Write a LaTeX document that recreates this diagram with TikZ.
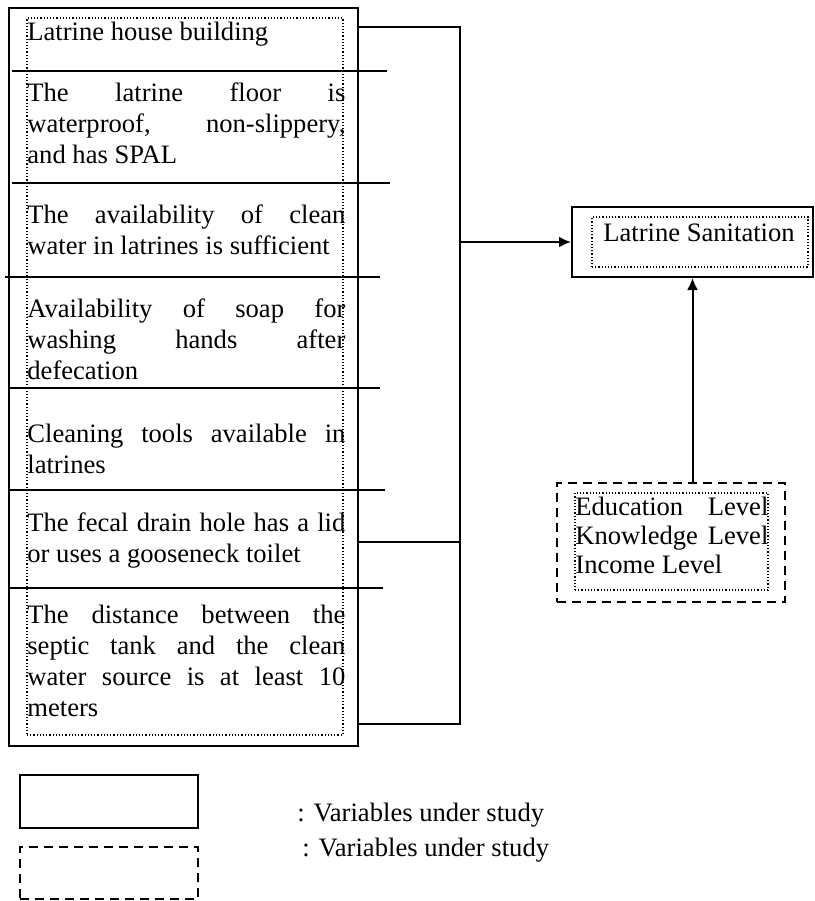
\documentclass[tikz,border=0pt]{standalone}
\usepackage{fontspec}
\setmainfont{Liberation Serif}
\newcommand{\boxfont}{\fontsize{13.3pt}{15.5pt}\selectfont\tolerance=10000\hyphenpenalty=10000}
\newcommand{\factorfont}{\fontsize{13.3pt}{14.5pt}\selectfont\tolerance=10000\hyphenpenalty=10000}
\usetikzlibrary{arrows, arrows.meta, positioning, fit}

\begin{document}
\begin{tikzpicture}[x=0.5pt, y=-0.5pt,
        frame/.style={draw, line width=1pt, inner sep=0pt},
        dotframe/.style={draw, densely dotted, line width=0.6pt, inner sep=0pt},
        dashframe/.style={draw, dash pattern=on 4.5pt off 3pt, line width=1pt, inner sep=0pt},
        item/.style={anchor=base west, text width=159pt, align=justify, inner sep=0pt, font=\boxfont},
        sep/.style={draw, line width=1pt},
        conn/.style={draw, line width=1pt},
        line/.style={draw, line width=1pt, -{Latex[length=6pt, width=5.5pt]}}]

        \useasboundingbox (0,0) rectangle (815,901);

        % indicator block
        \node [frame, fit={(9,8) (358,746)}] (outer) {};
        \node [dotframe, fit={(27,18) (343,735)}] (inner) {};
        \foreach \y/\a/\b in {71/12/387, 183/12/390, 277/5/380, 388/9/380, 490/9/385, 588/9/383}
            \path [sep] (\a,\y) -- (\b,\y);

        \node [item] (house) at (27,40) {Latrine house building};
        \node [item] (floor) at (27,101) {The latrine floor is\linebreak waterproof, non-slippery,\linebreak and has SPAL};
        \node [item] (water) at (27,223) {The availability of clean\linebreak water in latrines is sufficient};
        \node [item] (soap) at (27,317) {Availability of soap for\linebreak washing hands after\linebreak defecation};
        \node [item] (tools) at (27,442) {Cleaning tools available in\linebreak latrines};
        \node [item] (lid) at (27,531) {The fecal drain hole has a lid\linebreak or uses a gooseneck toilet};
        \node [item] (distance) at (27,623) {The distance between the\linebreak septic tank and the clean\linebreak water source is at least 10\linebreak meters};

        % outcome
        \node [frame, fit={(572,207) (813,277)}] (sanitation) {};
        \node [dotframe, fit={(592,217) (808,267)}] (sanitationin) {};
        \node [anchor=base, inner sep=0pt, font=\boxfont] (sanitationtext) at (699,241) {Latrine Sanitation};

        % other factors
        \node [dashframe, fit={(557,483) (785,602)}] (factors) {};
        \node [dotframe, fit={(575,493) (768,590)}] (factorsin) {};
        \node [item, text width=96.5pt, font=\factorfont] (factorstext) at (575,515) {Education Level\linebreak Knowledge Level\linebreak Income Level};

        % connectors
        \coordinate (o1) at (outer.east |- 0,27);
        \coordinate (o6) at (outer.east |- 0,542);
        \coordinate (o7) at (outer.east |- 0,724);
        \coordinate (b1) at (460,27);
        \coordinate (b7) at (460,724);

        \path [conn] (o1) -- (b1) -- (b7) -- (o7);
        \path [conn] (o6) -- (o6 -| b1);
        \path [line] (b1 |- sanitation.west) -- (sanitation.west);
        \path [line] (factors.north -| sanitation.south) -- (sanitation.south);

        % legend
        \node [frame, fit={(20,775) (198,828)}] (keysolid) {};
        \node [dashframe, fit={(20,847) (198,899)}] (keydashed) {};
        \node [anchor=base west, inner sep=0pt, font=\boxfont] (keysolidtext) at (297,821) {: Variables under study};
        \node [anchor=base west, inner sep=0pt, font=\boxfont] (keydashedtext) at (302,856) {: Variables under study};
    \end{tikzpicture}
\end{document}
